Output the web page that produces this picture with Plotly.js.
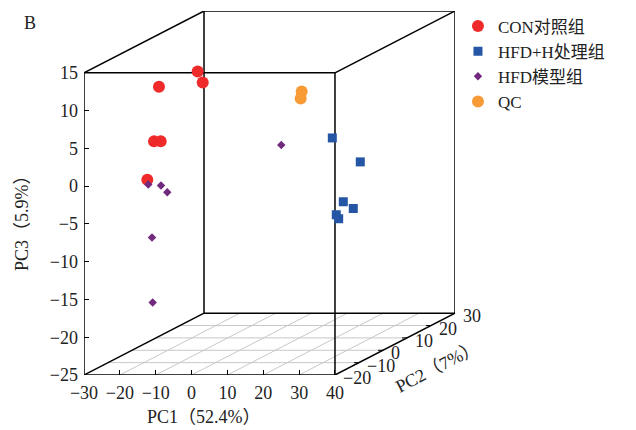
<!DOCTYPE html>
<html>
<head>
<meta charset="utf-8">
<script src="https://cdn.plot.ly/plotly-3.0.1.min.js"></script>
<style>html,body{margin:0;padding:0;background:#fff;}#chart{width:636px;height:430px;}</style>
</head>
<body>
<div id="chart"></div>
<script>
// ---- data (PC1, PC2, PC3 scores per group) ----
const groupNames = ["CON对照组", "HFD+H处理组", "HFD模型组", "QC"];

const conPC1 = [-15.03, -11.62, -17.12, -17.17, -17.98, -17.70];
const conPC2 = [5, 2, -8, -10, -6, -12];
const conPC3 = [11.08, 10.12, 11.19, 4.29, 3.64, -0.47];

const hfdhPC1 = [15.82, 26.97, 25.58, 26.36, 26.97, 25.63];
const hfdhPC2 = [15, 10, 5, 8, 0, 3];
const hfdhPC3 = [0.65, -1.70, -6.16, -7.54, -7.06, -8.08];

const hfdPC1 = [-15.42, -13.88, -10.79, -13.71, -12.18, 6.28];
const hfdPC2 = [-15, -12, -14, -16, -18, 8];
const hfdPC3 = [-0.60, -1.23, -1.78, -7.44, -15.73, 0.87];

const qcPC1 = [9.29, 9.01];
const qcPC2 = [12, 12];
const qcPC3 = [7.29, 6.37];

const pc1Ticks = [-30, -20, -10, 0, 10, 20, 30, 40];
const pc2Ticks = [-20, -10, 0, 10, 20, 30];
const pc3Ticks = [-25, -20, -15, -10, -5, 0, 5, 10, 15];

const axisTitles = {pc1: "PC1（52.4%）", pc2: "PC2（7%）", pc3: "PC3（5.9%）"};

// ---- oblique (cabinet-style) projection of the depth axis PC2 ----
const X_RANGE = [pc1Ticks[0], pc1Ticks[pc1Ticks.length - 1]];
const Y_RANGE = [pc3Ticks[0], pc3Ticks[pc3Ticks.length - 1]];
const D_RANGE = [pc2Ticks[0], pc2Ticks[pc2Ticks.length - 1]];
const DX = 33.47;   // depth offset in PC1 units for the full PC2 range
const DY = 8.185;   // depth offset in PC3 units for the full PC2 range
function frac(d) { return (d - D_RANGE[0]) / (D_RANGE[1] - D_RANGE[0]); }
function projX(p1, p2) { return p1 + frac(p2) * DX; }
function projY(p3, p2) { return p3 + frac(p2) * DY; }

const serif = "Liberation Serif, Times New Roman, Noto Sans CJK SC, serif";
const legendFont = "Liberation Serif, Noto Sans CJK SC, serif";

function mk(name, a, b, c, color, symbol, size) {
  return {
    type: "scatter", mode: "markers", name: name,
    x: a.map((v, i) => projX(v, b[i])),
    y: c.map((v, i) => projY(v, b[i])),
    marker: {color: color, symbol: symbol, size: size, line: {width: 0}},
    hoverinfo: "skip"
  };
}

const traces = [
  mk(groupNames[0], conPC1, conPC2, conPC3, "#EE2A2A", "circle", 12),
  mk(groupNames[1], hfdhPC1, hfdhPC2, hfdhPC3, "#2456A5", "square", 9),
  mk(groupNames[2], hfdPC1, hfdPC2, hfdPC3, "#712A7E", "diamond", 6.5),
  mk(groupNames[3], qcPC1, qcPC2, qcPC3, "#F89A36", "circle", 12)
];

// ---- box, floor grid, depth-axis ticks ----
const shapes = [];
function seg(x0, y0, x1, y1, color, width) {
  shapes.push({type: "line", xref: "x", yref: "y", x0: x0, y0: y0, x1: x1, y1: y1,
    line: {color: color, width: width}, layer: "below"});
}
const gridCol = "#c8c8c8";
// floor grid: lines of constant PC1
pc1Ticks.slice(1, -1).forEach(v => seg(v, Y_RANGE[0], v + DX, Y_RANGE[0] + DY, gridCol, 1));
// floor grid: lines of constant PC2
pc2Ticks.slice(1, -1).forEach(v => {
  const f = frac(v);
  seg(X_RANGE[0] + f * DX, Y_RANGE[0] + f * DY, X_RANGE[1] + f * DX, Y_RANGE[0] + f * DY, gridCol, 1);
});
const k = "#000";
const lw = 1.5;
// front face
seg(X_RANGE[0], Y_RANGE[0], X_RANGE[1], Y_RANGE[0], k, lw);
seg(X_RANGE[0], Y_RANGE[1], X_RANGE[1], Y_RANGE[1], k, lw);
seg(X_RANGE[0], Y_RANGE[0], X_RANGE[0], Y_RANGE[1], k, lw);
seg(X_RANGE[1], Y_RANGE[0], X_RANGE[1], Y_RANGE[1], k, lw);
// back face
seg(X_RANGE[0] + DX, Y_RANGE[0] + DY, X_RANGE[1] + DX, Y_RANGE[0] + DY, k, lw);
seg(X_RANGE[0] + DX, Y_RANGE[1] + DY, X_RANGE[1] + DX, Y_RANGE[1] + DY, k, lw);
seg(X_RANGE[0] + DX, Y_RANGE[0] + DY, X_RANGE[0] + DX, Y_RANGE[1] + DY, k, lw);
seg(X_RANGE[1] + DX, Y_RANGE[0] + DY, X_RANGE[1] + DX, Y_RANGE[1] + DY, k, lw);
// depth edges
[[X_RANGE[0], Y_RANGE[0]], [X_RANGE[1], Y_RANGE[0]], [X_RANGE[0], Y_RANGE[1]], [X_RANGE[1], Y_RANGE[1]]]
  .forEach(p => seg(p[0], p[1], p[0] + DX, p[1] + DY, k, lw));

// PC2 ticks along the lower-right depth edge, and their labels
const annotations = [];
pc2Ticks.forEach((v, i) => {
  const x = projX(X_RANGE[1], v), y = projY(Y_RANGE[0], v);
  if (i > 0 && i < pc2Ticks.length - 1) {
    shapes.push({type: "line", xref: "x", yref: "y", x0: x, y0: y, x1: x, y1: y,
      xsizemode: "pixel", xanchor: x, x0: -5, x1: 0,
      line: {color: k, width: 1}, layer: "above"});
  }
  annotations.push({x: x, y: y, xref: "x", yref: "y", text: (v < 0 ? "\u2212" + Math.abs(v) : String(v)),
    showarrow: false, xanchor: "left", yanchor: "middle", xshift: 6, yshift: -3,
    font: {family: serif, size: 18, color: "#222"}});
});

// axis titles
const midX = (X_RANGE[0] + X_RANGE[1]) / 2, midY = (Y_RANGE[0] + Y_RANGE[1]) / 2;
annotations.push({x: midX, y: Y_RANGE[0], xref: "x", yref: "y", text: axisTitles.pc1, showarrow: false,
  xanchor: "center", yanchor: "middle", yshift: -42, xshift: -6, font: {family: serif, size: 18, color: "#222"}});
annotations.push({x: X_RANGE[0], y: midY, xref: "x", yref: "y", text: axisTitles.pc3, showarrow: false,
  textangle: -90, xanchor: "center", yanchor: "middle", xshift: -62, yshift: 5, font: {family: serif, size: 18, color: "#222"}});
const d2 = (D_RANGE[0] + D_RANGE[1]) / 2;
annotations.push({x: projX(X_RANGE[1], d2), y: projY(Y_RANGE[0], d2), xref: "x", yref: "y", text: axisTitles.pc2,
  showarrow: false, textangle: -27.3, xanchor: "center", yanchor: "middle", xshift: 42, yshift: -23,
  font: {family: serif, size: 18, color: "#222"}});
// panel letter (paper coords)
annotations.push({x: (30 - 84) / 371, y: (375 - 22) / 365, xref: "paper", yref: "paper", text: "B", showarrow: false,
  xanchor: "center", yanchor: "middle", font: {family: serif, size: 18, color: "#222"}});

const layout = {
  width: 636, height: 430, autosize: false,
  margin: {l: 84, r: 181, t: 10, b: 55, pad: 0},
  paper_bgcolor: "#fff", plot_bgcolor: "rgba(0,0,0,0)",
  showlegend: true,
  legend: {x: 1.008, xanchor: "left", y: 1.004, yanchor: "top",
    font: {family: legendFont, size: 17, color: "#222"}, bgcolor: "rgba(0,0,0,0)",
    itemsizing: "trace", tracegroupgap: 0},
  xaxis: {range: [X_RANGE[0], X_RANGE[1] + DX], tickmode: "array", tickvals: pc1Ticks,
    ticktext: pc1Ticks.map(v => v < 0 ? "\u2212" + Math.abs(v) : String(v)),
    ticks: "inside", ticklen: 5, tickwidth: 1, tickcolor: "#000", ticklabelstandoff: 5,
    showgrid: false, zeroline: false, showline: false, fixedrange: true,
    tickfont: {family: serif, size: 18, color: "#222"}},
  yaxis: {range: [Y_RANGE[0], Y_RANGE[1] + DY], tickmode: "array", tickvals: pc3Ticks,
    ticktext: pc3Ticks.map(v => v < 0 ? "\u2212" + Math.abs(v) : String(v)),
    ticks: "inside", ticklen: 5, tickwidth: 1, tickcolor: "#000", ticklabelstandoff: 5,
    showgrid: false, zeroline: false, showline: false, fixedrange: true,
    tickfont: {family: serif, size: 18, color: "#222"}},
  shapes: shapes,
  annotations: annotations
};

Plotly.newPlot("chart", traces, layout, {displayModeBar: false, staticPlot: true});
</script>
</body>
</html>
